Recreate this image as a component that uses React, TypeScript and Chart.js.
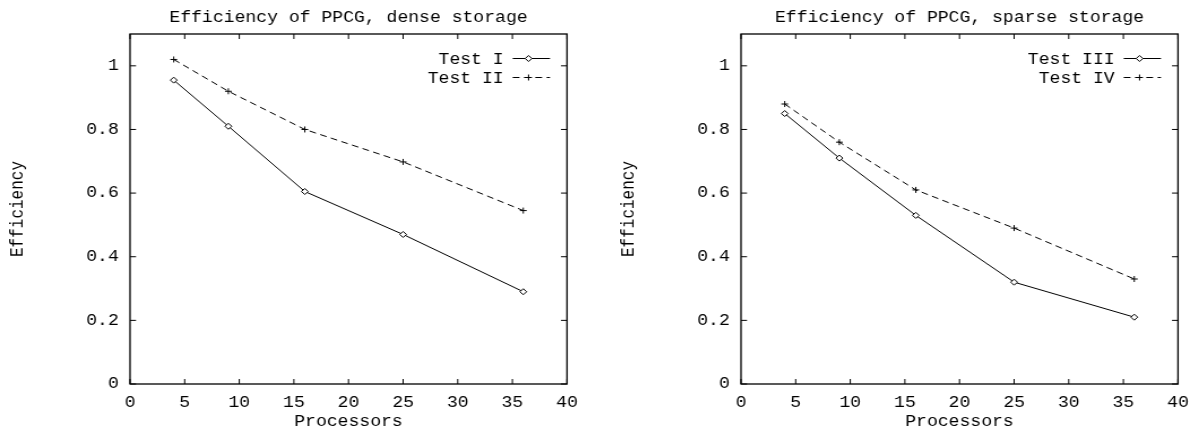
import React, { useEffect, useRef } from 'react';
import { Chart, registerables } from 'chart.js';

Chart.register(...registerables);

// ---- data ----
const processors = [4, 9, 16, 25, 36];
const testI = [0.955, 0.81, 0.605, 0.47, 0.29];
const testII = [1.02, 0.92, 0.8, 0.698, 0.545];
const testIII = [0.85, 0.71, 0.53, 0.32, 0.21];
const testIV = [0.88, 0.76, 0.61, 0.49, 0.33];
const xTicks = [0, 5, 10, 15, 20, 25, 30, 35, 40];
const yTicks = [0, 0.2, 0.4, 0.6, 0.8, 1];
const yTickLabels = ['0', '0.2', '0.4', '0.6', '0.8', '1'];
const titles = ['Efficiency of PPCG, dense storage', 'Efficiency of PPCG, sparse storage'];
const solidLabels = ['Test I', 'Test III'];
const dashedLabels = ['Test II', 'Test IV'];
const xTitle = 'Processors';
const yTitle = 'Efficiency';

const FONT = 'Liberation Mono';
const INTERNAL_W = 520;
const DISPLAY_W = 588;
const H = 432;

function drawMarker(ctx: CanvasRenderingContext2D, style: string, x: number, y: number, r: number) {
  ctx.beginPath();
  if (style === 'rectRot') {
    ctx.moveTo(x, y - r);
    ctx.lineTo(x + r, y);
    ctx.lineTo(x, y + r);
    ctx.lineTo(x - r, y);
    ctx.closePath();
    ctx.fillStyle = '#fff';
    ctx.fill();
    ctx.stroke();
  } else {
    ctx.moveTo(x - r, y);
    ctx.lineTo(x + r, y);
    ctx.moveTo(x, y - r);
    ctx.lineTo(x, y + r);
    ctx.stroke();
  }
}

const framePlugin = {
  id: 'gnuFrame',
  afterDatasetsDraw(chart: any) {
    const { ctx, chartArea: a, scales } = chart;
    ctx.save();
    ctx.strokeStyle = '#000';
    ctx.setLineDash([]);
    ctx.lineWidth = 1.3;
    ctx.strokeRect(a.left, a.top, a.right - a.left, a.bottom - a.top);
    ctx.lineWidth = 1;
    ctx.beginPath();
    scales.x.ticks.forEach((t: any) => {
      const px = scales.x.getPixelForValue(t.value);
      ctx.moveTo(px, a.bottom);
      ctx.lineTo(px, a.bottom - 5);
      ctx.moveTo(px, a.top);
      ctx.lineTo(px, a.top + 5);
    });
    scales.y.ticks.forEach((t: any) => {
      const py = scales.y.getPixelForValue(t.value);
      ctx.moveTo(a.left, py);
      ctx.lineTo(a.left + 5.3, py);
      ctx.moveTo(a.right, py);
      ctx.lineTo(a.right - 5.3, py);
    });
    ctx.stroke();

    // key (legend) in the top-right corner, gnuplot style
    ctx.font = `16px "${FONT}"`;
    ctx.textAlign = 'right';
    ctx.textBaseline = 'middle';
    chart.data.datasets.forEach((ds: any, i: number) => {
      const y = a.top + 24.5 + i * 19;
      ctx.fillStyle = '#000';
      ctx.fillText(ds.label, a.right - 56, y + 1);
      ctx.strokeStyle = '#000';
      ctx.lineWidth = 1;
      ctx.setLineDash(ds.borderDash || []);
      ctx.beginPath();
      ctx.moveTo(a.right - 48, y);
      ctx.lineTo(a.right - 15, y);
      ctx.stroke();
      ctx.setLineDash([]);
      drawMarker(ctx, ds.pointStyle, a.right - 34, y, 3);
    });
    ctx.restore();
  },
};

function makeConfig(idx: number, solid: number[], dashed: number[]): any {
  const font = { family: FONT, size: 16, weight: 'normal' as const };
  return {
    type: 'line',
    data: {
      datasets: [
        {
          label: solidLabels[idx],
          data: processors.map((p, i) => ({ x: p, y: solid[i] })),
          borderColor: '#000',
          borderWidth: 1,
          pointStyle: 'rectRot',
          pointRadius: 3,
          pointBorderWidth: 1,
          pointBorderColor: '#000',
          pointBackgroundColor: '#fff',
          tension: 0,
          fill: false,
        },
        {
          label: dashedLabels[idx],
          data: processors.map((p, i) => ({ x: p, y: dashed[i] })),
          borderColor: '#000',
          borderWidth: 1,
          borderDash: [6, 4],
          pointStyle: 'cross',
          pointRadius: 3,
          pointBorderWidth: 1,
          pointBorderColor: '#000',
          pointBackgroundColor: '#000',
          tension: 0,
          fill: false,
        },
      ],
    },
    options: {
      responsive: false,
      animation: false,
      devicePixelRatio: 1,
      layout: { padding: { left: 0, right: 13, top: 0, bottom: 0 } },
      plugins: {
        legend: { display: false },
        tooltip: { enabled: false },
        title: {
          display: true,
          text: titles[idx],
          fullSize: false,
          color: '#000',
          font,
          padding: { top: 8, bottom: 6.8 },
        },
      },
      scales: {
        x: {
          type: 'linear',
          min: 0,
          max: 40,
          afterBuildTicks: (s: any) => {
            s.ticks = xTicks.map((v) => ({ value: v }));
          },
          afterFit: (s: any) => {
            s.height = 48;
          },
          grid: { display: false, drawTicks: false },
          border: { display: false },
          ticks: {
            color: '#000',
            font,
            padding: 9,
            maxRotation: 0,
            autoSkip: false,
            callback: (v: any) => String(v),
          },
          title: {
            display: true,
            text: xTitle,
            color: '#000',
            font,
            padding: { top: 0, bottom: 1 },
          },
        },
        y: {
          type: 'linear',
          min: 0,
          max: 1.1,
          afterBuildTicks: (s: any) => {
            s.ticks = yTicks.map((v) => ({ value: v }));
          },
          afterFit: (s: any) => {
            s.width = 115;
          },
          grid: { display: false, drawTicks: false },
          border: { display: false },
          ticks: {
            color: '#000',
            font,
            padding: 10,
            autoSkip: false,
            callback: (v: any) => {
              const k = yTicks.indexOf(v);
              return k >= 0 ? yTickLabels[k] : String(v);
            },
          },
          title: {
            display: true,
            text: yTitle,
            color: '#000',
            font,
            padding: { top: 6, bottom: 0 },
          },
        },
      },
    },
    plugins: [framePlugin],
  };
}

function Panel({ idx, left, solid, dashed }: { idx: number; left: number; solid: number[]; dashed: number[] }) {
  const ref = useRef<HTMLCanvasElement>(null);
  useEffect(() => {
    const chart = new Chart(ref.current as HTMLCanvasElement, makeConfig(idx, solid, dashed));
    return () => chart.destroy();
  }, [idx, solid, dashed]);
  return (
    <canvas
      ref={ref}
      width={INTERNAL_W}
      height={H}
      style={{ position: 'absolute', left, top: 0, width: `${DISPLAY_W}px`, height: `${H}px` }}
    />
  );
}

export default function App() {
  return (
    <div
      style={{
        position: 'fixed',
        left: 0,
        top: 0,
        width: 1199,
        height: 432,
        overflow: 'hidden',
        background: '#fff',
      }}
    >
      <Panel idx={0} left={0} solid={testI} dashed={testII} />
      <Panel idx={1} left={611} solid={testIII} dashed={testIV} />
    </div>
  );
}
